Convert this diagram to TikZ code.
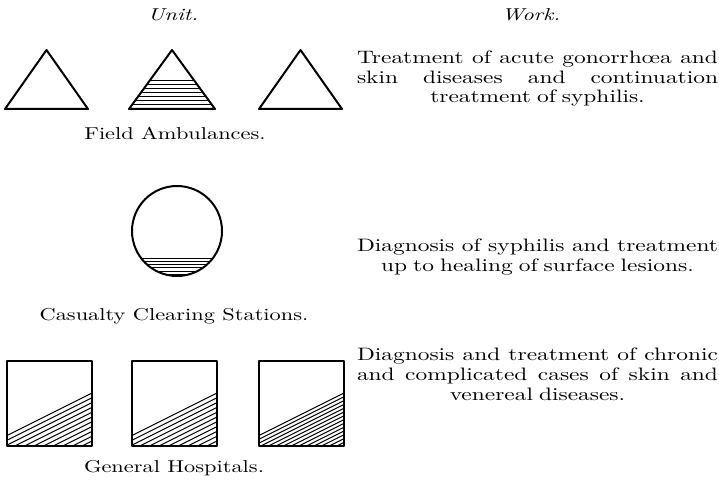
\documentclass[tikz,border=0pt]{standalone}
\usepackage{fontspec}
\setmainfont{lmroman10-regular}[Extension=.otf, ItalicFont=lmroman10-italic, FakeStretch=1.3]
\usepackage{tikz}
\usetikzlibrary{calc}

\newcommand{\fullline}[1]{\noindent\hbox to 361pt{\spaceskip=0.3em plus 1fil minus 0.1em #1}}

\begin{document}
\begin{tikzpicture}[x=1pt, y=-1pt,
  outline/.style={line width=2pt, line join=round},
  hatch/.style={line width=1pt},
  txt/.style={inner sep=0pt, font=\fontsize{17.2}{19.5}\selectfont},
  work/.style={inner sep=0pt, font=\fontsize{18}{19.8}\selectfont,
    anchor=north, text width=361pt, align=center}]

\useasboundingbox (0,0) rectangle (719,481);

% headings
\node[txt, anchor=base] (unit) at (173,21) {\itshape Unit.};
\node[txt, anchor=base] (workhead) at (531,21) {\itshape Work.};

% field ambulances
\draw[outline] (5,109) -- (46.5,50) -- (88,109) -- cycle;
\begin{scope}
\clip (129,109) -- (172,50) -- (215,109) -- cycle;
\foreach \i in {0,...,6}
  \draw[hatch] (120,{81+4*\i}) -- (225,{81+4*\i});
\end{scope}
\draw[outline] (129,109) -- (172,50) -- (215,109) -- cycle;
\draw[outline] (259,109) -- (300.5,50) -- (342,109) -- cycle;
\node[txt, anchor=base] (field) at (175,140) {Field Ambulances.};

% casualty clearing stations
\begin{scope}
\clip (177,231) circle (45);
\foreach \i in {0,...,5}
  \draw[hatch] (120,{258+3.3*\i}) -- (235,{258+3.3*\i});
\end{scope}
\draw[outline] (177,231) circle (45);
\node[txt, anchor=base] (casualty) at (174,320) {Casualty Clearing Stations.};

% general hospitals
\foreach \x/\d in {7/4.8, 132/4.8, 259/3.8} {
  \begin{scope}
  \clip (\x,361) rectangle ({\x+85},446);
  \foreach \i in {0,...,14}
    \draw[hatch] ({\x+85},{393+\d*\i}) -- ({\x-15},{443+\d*\i});
  \end{scope}
  \draw[outline] (\x,361) rectangle ({\x+85},446);
}
\node[txt, anchor=base] (general) at (174,472) {General Hospitals.};

% work
\node[work] (fieldwork) at (537.5,50.5) {\fullline{Treatment of acute gonorrh\oe a and}\\
  \fullline{skin diseases and continuation}\\ treatment of syphilis.};
\node[work] (casualtywork) at (537.5,239) {\fullline{Diagnosis of syphilis and treatment}\\
  up to healing of surface lesions.};
\node[work] (generalwork) at (537.5,348) {\fullline{Diagnosis and treatment of chronic}\\
  \fullline{and complicated cases of skin and}\\ venereal diseases.};

\end{tikzpicture}
\end{document}
